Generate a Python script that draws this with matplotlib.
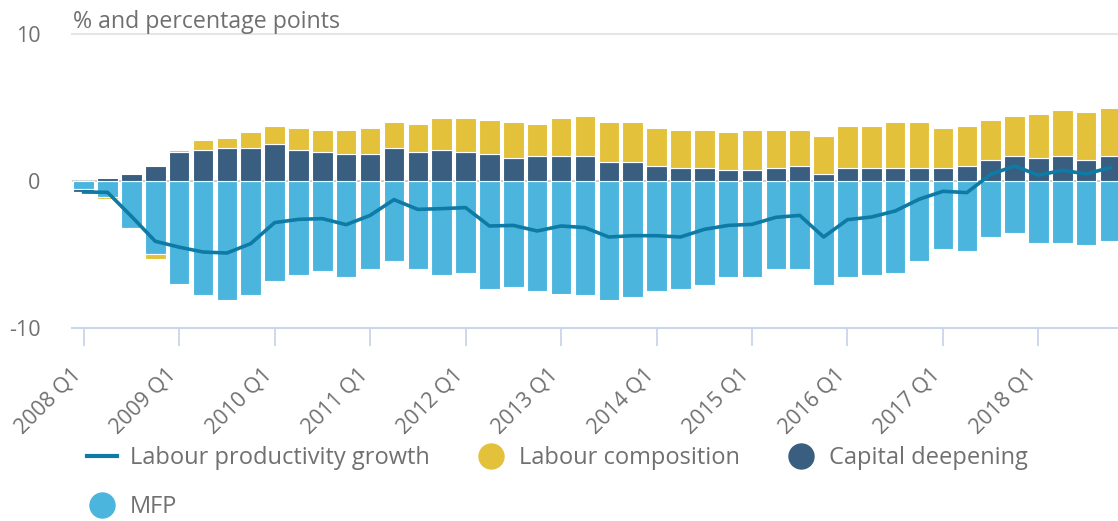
import numpy as np
import matplotlib.pyplot as plt
from matplotlib.lines import Line2D
from matplotlib.transforms import ScaledTranslation

plt.rcParams['font.family'] = ['Open Sans', 'DejaVu Sans']

# quarters 2008 Q1 .. 2018 Q4
quarters = [f"{y} Q{q}" for y in range(2008, 2019) for q in range(1, 5)]

mfp = [-0.55, -1.09, -3.17, -4.94, -6.98, -7.78, -8.07, -7.78, -6.83, -6.42, -6.15,
       -6.55, -6.01, -5.46, -6.01, -6.42, -6.28, -7.37, -7.23, -7.51, -7.66, -7.78,
       -8.07, -7.91, -7.51, -7.37, -7.10, -6.55, -6.55, -6.01, -6.01, -7.10, -6.55,
       -6.42, -6.28, -5.46, -4.65, -4.78, -3.83, -3.56, -4.24, -4.24, -4.38, -4.10]
capital = [-0.18, 0.20, 0.48, 1.02, 1.97, 2.11, 2.24, 2.24, 2.52, 2.11, 1.97,
           1.84, 1.84, 2.24, 1.97, 2.11, 1.97, 1.84, 1.56, 1.70, 1.70, 1.70,
           1.29, 1.29, 1.02, 0.88, 0.88, 0.75, 0.75, 0.88, 1.02, 0.48, 0.88,
           0.88, 0.88, 0.88, 0.88, 1.02, 1.43, 1.70, 1.56, 1.70, 1.43, 1.70]
labour_comp = [-0.12, -0.14, -0.11, -0.39, 0.11, 0.68, 0.70, 1.09, 1.22, 1.50, 1.50,
               1.63, 1.77, 1.77, 1.90, 2.18, 2.31, 2.31, 2.45, 2.18, 2.59, 2.72,
               2.72, 2.72, 2.59, 2.59, 2.59, 2.59, 2.72, 2.59, 2.45, 2.59, 2.86,
               2.86, 3.13, 3.13, 2.72, 2.72, 2.72, 2.72, 2.99, 3.13, 3.27, 3.27]
lpg = [-0.75, -0.77, -2.40, -4.10, -4.50, -4.83, -4.90, -4.26, -2.83, -2.61, -2.56,
       -2.97, -2.34, -1.27, -1.93, -1.88, -1.81, -3.06, -3.02, -3.40, -3.06, -3.17,
       -3.81, -3.72, -3.72, -3.81, -3.29, -3.02, -2.95, -2.47, -2.34, -3.81, -2.63,
       -2.45, -2.04, -1.24, -0.70, -0.79, 0.45, 1.02, 0.39, 0.73, 0.48, 0.91]

c_mfp = '#4bb5dd'
c_cap = '#3a5e7f'
c_lc = '#e4c13a'
c_line = '#0e7aa6'
txt = '#707070'

W, H = 1118, 521
fig = plt.figure(figsize=(W / 100, H / 100), dpi=100)
ax = fig.add_axes([71.7 / W, 193 / H, (1122 - 71.7) / W, 294 / H])

x = np.arange(len(quarters))
pos_base = np.zeros(len(x))
neg_base = np.zeros(len(x))
for vals, col in [(mfp, c_mfp), (capital, c_cap), (labour_comp, c_lc)]:
    vals = np.array(vals)
    base = np.where(vals >= 0, pos_base, neg_base)
    ax.bar(x, vals, width=0.86, bottom=base, color=col, edgecolor='white',
           linewidth=0.8, zorder=2)
    pos_base += np.clip(vals, 0, None)
    neg_base += np.clip(vals, None, 0)

ax.plot(x, lpg, color=c_line, lw=2.6, zorder=3, solid_joinstyle='round')

ax.axhline(0, color='#c8c8c8', lw=1.2, zorder=1)
ax.axhline(10, color='#e6e6e6', lw=1.5, zorder=1, clip_on=False)

ax.set_xlim(-0.5, 43.5)
ax.set_ylim(-10, 10)

for s in ['top', 'right', 'left']:
    ax.spines[s].set_visible(False)
ax.spines['bottom'].set_color('#ccd6eb')
ax.spines['bottom'].set_linewidth(1.5)

ax.set_yticks([-10, 0, 10])
ax.set_yticklabels(['-10', '0', '10'])
ax.tick_params(axis='y', length=0, pad=22.5, labelsize=15.5, labelcolor=txt)

ax.set_xticks(x[::4])
ax.set_xticklabels(quarters[::4])
ax.tick_params(axis='x', length=13, width=1.3, color='#ccd6eb', pad=21,
               labelsize=15.5, labelcolor=txt)
shift = ScaledTranslation(-2 / 100, 0, fig.dpi_scale_trans)
for lab in ax.get_xticklabels():
    lab.set_rotation(45)
    lab.set_ha('right')
    lab.set_va('baseline')
    lab.set_rotation_mode('anchor')
    lab.set_transform(lab.get_transform() + shift)

fig.text(73 / W, 1 - 28 / H, '% and percentage points', fontsize=16.7,
         color=txt, ha='left', va='baseline')

handles = [
    Line2D([], [], color=c_line, lw=3),
    Line2D([], [], marker='o', ls='none', color=c_mfp, markersize=18),
    Line2D([], [], marker='o', ls='none', color=c_lc, markersize=18),
    Line2D([], [], marker='o', ls='none', color=c_cap, markersize=18),
]
labels = ['Labour productivity growth', 'MFP', 'Labour composition', 'Capital deepening']
leg = fig.legend(handles, labels, ncol=3, loc='upper left',
                 bbox_to_anchor=(87 / W, 1 - 446 / H), frameon=False,
                 fontsize=17, handlelength=1.27, handletextpad=0.55,
                 columnspacing=1.95, labelspacing=1.05, borderpad=0,
                 borderaxespad=0)
for t in leg.get_texts():
    t.set_color(txt)

fig.savefig('out.png', dpi=100)
